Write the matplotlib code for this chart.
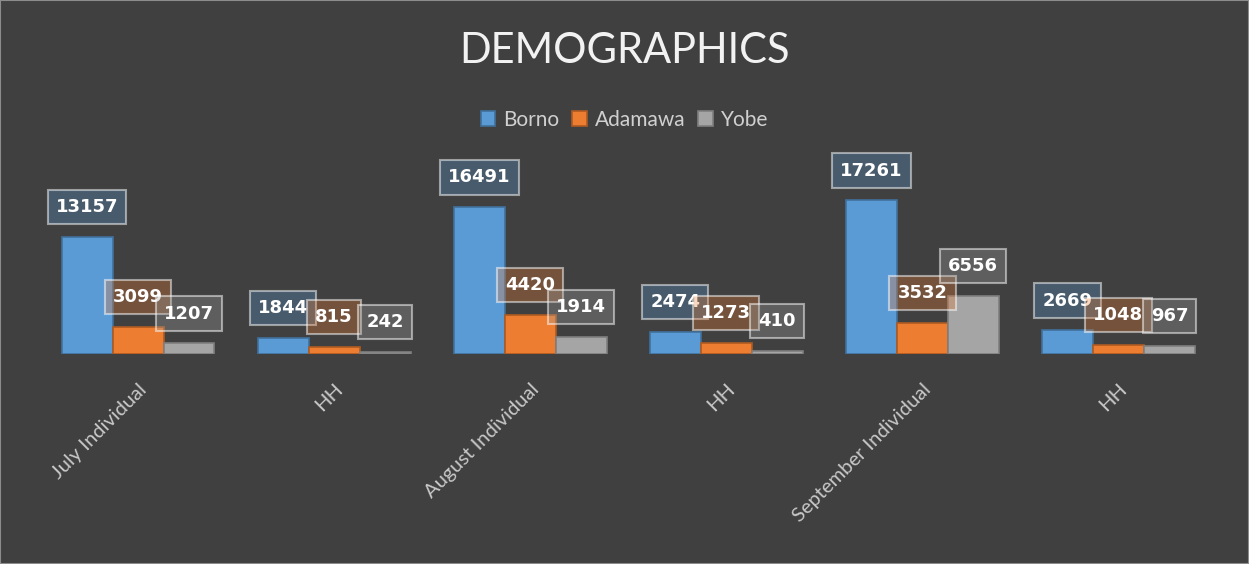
import numpy as np
import matplotlib
matplotlib.use("Agg")
import matplotlib.pyplot as plt
from matplotlib.patches import Rectangle

categories = ["July Individual", "HH", "August Individual", "HH", "September Individual", "HH"]
borno = [13157, 1844, 16491, 2474, 17261, 2669]
adamawa = [3099, 815, 4420, 1273, 3532, 1048]
yobe = [1207, 242, 1914, 410, 6556, 967]

series = [("Borno", borno, "#5b9bd5", "#41719c"),
          ("Adamawa", adamawa, "#ed7d31", "#ae5a21"),
          ("Yobe", yobe, "#a5a5a5", "#7f7f7f")]

bg = "#404040"
plt.rcParams['font.family'] = ['Lato', 'DejaVu Sans']

fig = plt.figure(figsize=(12.49, 5.64), dpi=100, facecolor=bg)
fig.patches.append(Rectangle((0, 0), 1, 1, transform=fig.transFigure,
                             fill=False, edgecolor="#8c8c8c", linewidth=1.5))
ax = fig.add_axes([0.032, 0.372, 0.942, 0.316])
ax.set_facecolor(bg)

x = np.arange(len(categories))
w = 0.26
for i, (name, vals, col, edge) in enumerate(series):
    pos = x + (i - 1) * w
    ax.bar(pos, vals, width=w, color=col, edgecolor=edge, linewidth=1.2, label=name, zorder=2)
    for p, v in zip(pos, vals):
        ax.annotate(str(v), (p, v), xytext=(0, 21.5), textcoords="offset points",
                    ha="center", va="center", color="white", fontsize=13, fontweight="bold",
                    family="DejaVu Sans", zorder=5,
                    bbox=dict(boxstyle="square,pad=0.45", facecolor=matplotlib.colors.to_rgba(col, 0.3),
                              edgecolor=(1, 1, 1, 0.5), linewidth=1.5))

ax.set_xlim(-0.5, len(categories) - 0.5)
ax.set_ylim(0, 20000)
ax.set_yticks([])
ax.set_xticks(x)
ax.set_xticklabels(categories, rotation=45, ha="right", rotation_mode="anchor",
                   color="#c8c8c8", fontsize=14.5)
ax.tick_params(axis="x", length=0, pad=19)
for s in ax.spines.values():
    s.set_visible(False)

fig.text(0.5, 0.91, "DEMOGRAPHICS", ha="center", va="center", color="#f2f2f2", fontsize=30)
leg = fig.legend(loc="center", bbox_to_anchor=(0.5, 0.788), ncol=3, frameon=False,
                 fontsize=15, handlelength=0.7, handleheight=0.7, handletextpad=0.4,
                 columnspacing=0.6, labelcolor="#d0d0d0")

fig.savefig("out.png", dpi=100, facecolor=bg)
